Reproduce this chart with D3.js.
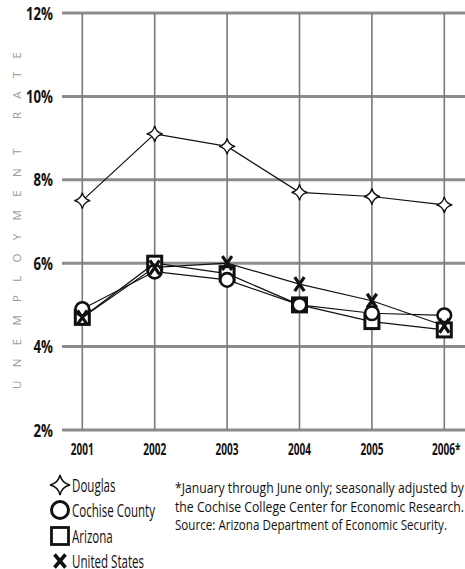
<!DOCTYPE html>
<html>
<head>
<meta charset="utf-8">
<script src="https://cdn.jsdelivr.net/npm/d3@7"></script>
<style>
  html, body { margin: 0; padding: 0; background: #fff; }
  svg { display: block; }
  text { font-family: "Open Sans", "Liberation Sans", sans-serif; }
</style>
</head>
<body>
<svg id="chart" width="465" height="569"></svg>
<script>
// ---- data ----
const years = ["2001", "2002", "2003", "2004", "2005", "2006*"];
const douglas = [7.5, 9.1, 8.8, 7.7, 7.6, 7.4];
const cochise = [4.9, 5.8, 5.6, 5.0, 4.8, 4.75];
const arizona = [4.7, 6.0, 5.75, 5.0, 4.6, 4.4];
const unitedStates = [4.7, 5.9, 6.0, 5.5, 5.1, 4.5];
const yTicks = [2, 4, 6, 8, 10, 12];
const seriesNames = ["Douglas", "Cochise County", "Arizona", "United States"];
const axisTitle = "UNEMPLOYMENT RATE";
const footnote = [
  "*January through June only; seasonally adjusted by",
  "the Cochise College Center for Economic Research.",
  "Source: Arizona Department of Economic Security."
];

const svg = d3.select("#chart");
const x = d3.scalePoint().domain(years).range([82.3, 444.3]);
const y = d3.scaleLinear().domain([2, 12]).range([430, 13]);

// condense text horizontally (the reference uses a condensed face)
function condense(sel, factor) {
  sel.each(function() {
    const w = this.getComputedTextLength();
    d3.select(this).attr("textLength", w * factor).attr("lengthAdjust", "spacingAndGlyphs");
  });
}
function measure(str, size, weight) {
  const t = svg.append("text").attr("font-size", size).attr("font-weight", weight).text(str);
  const w = t.node().getComputedTextLength();
  t.remove();
  return w;
}

// horizontal gridlines
svg.append("g").selectAll("line").data(yTicks).join("line")
  .attr("x1", 62).attr("x2", 465)
  .attr("y1", d => y(d)).attr("y2", d => y(d))
  .attr("stroke", "#8c8c8c").attr("stroke-width", 3);

// vertical gridlines
svg.append("g").selectAll("line").data(years).join("line")
  .attr("x1", d => x(d)).attr("x2", d => x(d))
  .attr("y1", y(12)).attr("y2", y(2))
  .attr("stroke", "#7a7a7a").attr("stroke-width", 1.6);

// y tick labels
const tickF = 27 / measure("12%", 17.5, "bold");
svg.append("g").selectAll("text").data(yTicks).join("text")
  .attr("x", 53).attr("y", d => y(d) + 6.5)
  .attr("text-anchor", "end")
  .attr("font-size", 17.5).attr("font-weight", "bold")
  .attr("fill", "#111")
  .text(d => d + "%")
  .call(condense, tickF);

// x labels
const yearF = 23 / measure("2001", 15.5, "bold");
svg.append("g").selectAll("text").data(years).join("text")
  .attr("x", d => x(d) + (d.endsWith("*") ? 2 : 0)).attr("y", 455)
  .attr("text-anchor", "middle")
  .attr("font-size", 15.5).attr("font-weight", "bold")
  .attr("fill", "#111")
  .text(d => d)
  .call(condense, yearF);

// axis title (rotated), spread along the axis
svg.append("text")
  .attr("transform", "translate(21,389) rotate(-90)")
  .attr("font-size", 11.5)
  .attr("textLength", 337)
  .attr("lengthAdjust", "spacing")
  .attr("fill", "#9a9a9a")
  .text(axisTitle);

// markers
function starPath(R) {
  const k = R * 0.18;
  return `M0,${-R} Q${k},${-k} ${R},0 Q${k},${k} 0,${R} Q${-k},${k} ${-R},0 Q${-k},${-k} 0,${-R} Z`;
}
function xPath(w, h) {
  return `M${-w},${-h} L${w},${h} M${w},${-h} L${-w},${h}`;
}

const line = d3.line().x((d, i) => x(years[i])).y(d => y(d));
function drawLine(vals) {
  svg.append("path").datum(vals)
    .attr("d", line).attr("fill", "none")
    .attr("stroke", "#111").attr("stroke-width", 1.2);
}

drawLine(arizona);
drawLine(cochise);
drawLine(unitedStates);
drawLine(douglas);

// Arizona squares
svg.append("g").selectAll("rect").data(arizona).join("rect")
  .attr("x", (d, i) => x(years[i]) - 7).attr("y", d => y(d) - 7)
  .attr("width", 14).attr("height", 14)
  .attr("fill", "#fff").attr("stroke", "#111").attr("stroke-width", 3);

// Cochise circles
svg.append("g").selectAll("circle").data(cochise).join("circle")
  .attr("cx", (d, i) => x(years[i])).attr("cy", d => y(d)).attr("r", 6.8)
  .attr("fill", "#fff").attr("stroke", "#111").attr("stroke-width", 2.6);

// US X marks
svg.append("g").selectAll("path").data(unitedStates).join("path")
  .attr("transform", (d, i) => `translate(${x(years[i])},${y(d)})`)
  .attr("d", xPath(4.8, 7))
  .attr("fill", "none").attr("stroke", "#111").attr("stroke-width", 3.2);

// Douglas stars
svg.append("g").selectAll("path").data(douglas).join("path")
  .attr("transform", (d, i) => `translate(${x(years[i])},${y(d)})`)
  .attr("d", starPath(8))
  .attr("fill", "#fff").attr("stroke", "#111").attr("stroke-width", 1.4);

// legend
const lg = svg.append("g");
const legendY = [485, 510, 536, 561];
lg.append("path").attr("transform", `translate(60,${legendY[0]})`)
  .attr("d", starPath(10)).attr("fill", "#fff").attr("stroke", "#111").attr("stroke-width", 1.5);
lg.append("circle").attr("cx", 60).attr("cy", legendY[1]).attr("r", 8.5)
  .attr("fill", "#fff").attr("stroke", "#111").attr("stroke-width", 3);
lg.append("rect").attr("x", 51.5).attr("y", legendY[2] - 8.5).attr("width", 17).attr("height", 17)
  .attr("fill", "#fff").attr("stroke", "#111").attr("stroke-width", 2.8);
lg.append("path").attr("transform", `translate(60,${legendY[3]})`)
  .attr("d", xPath(5.5, 6.5)).attr("fill", "none").attr("stroke", "#111").attr("stroke-width", 3.6);
const legF = 83 / measure("Cochise County", 17.5, "normal");
lg.selectAll("text").data(seriesNames).join("text")
  .attr("x", 72).attr("y", (d, i) => legendY[i] + 6.5)
  .attr("font-size", 17.5).attr("fill", "#111")
  .text(d => d)
  .call(condense, legF);

// footnote
const fnWidths = [289, 289, 272];
svg.append("g").selectAll("text").data(footnote).join("text")
  .attr("x", 175).attr("y", (d, i) => 493 + i * 18.5)
  .attr("font-size", 15).attr("fill", "#111")
  .attr("textLength", (d, i) => fnWidths[i])
  .attr("lengthAdjust", "spacingAndGlyphs")
  .text(d => d);
</script>
</body>
</html>
